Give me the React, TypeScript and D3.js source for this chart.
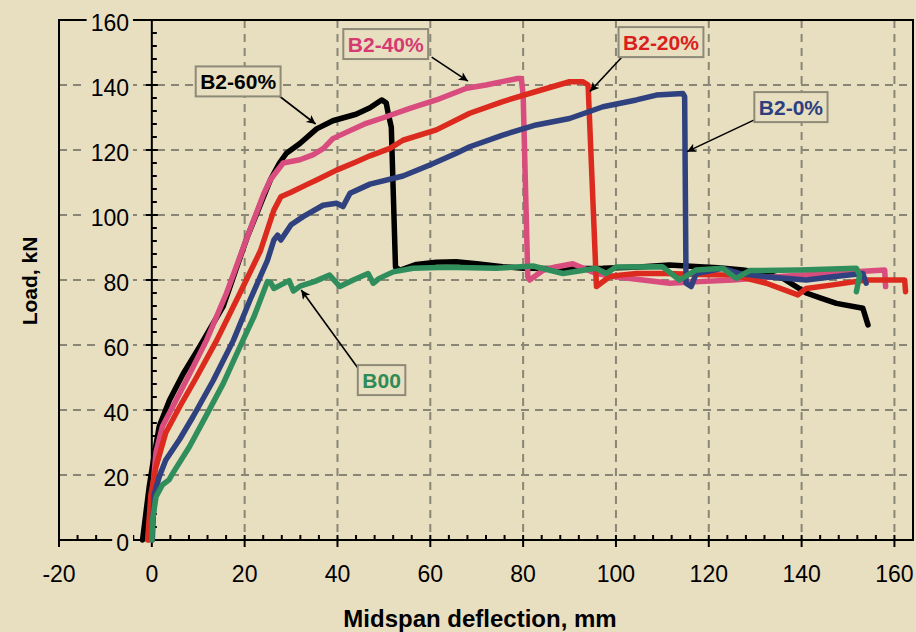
import React, { useEffect, useRef } from "react";
import * as d3 from "d3";

const xTicks = [-20, 0, 20, 40, 60, 80, 100, 120, 140, 160];
const yTicks = [0, 20, 40, 60, 80, 100, 120, 140, 160];

// load (kN) vs midspan deflection (mm)
const b2_60 = [
  [-2, 0], [-1.3, 8], [-0.6, 16], [0.5, 26], [1.6, 35], [3.8, 43], [6.7, 51], [10.3, 59.5],
  [15.4, 72], [20.5, 93], [25.6, 111], [27.5, 116], [29, 119], [31.9, 122], [35.5, 126.5],
  [39, 129], [44, 131], [47, 133], [49.5, 135.4], [50.5, 134.5], [50.9, 131.5], [51.6, 127],
  [52.5, 84], [53.4, 83], [57, 84.8], [61.3, 85.5], [65.6, 85.6], [70, 85], [75.6, 84.1],
  [80, 83.6], [90, 83.5], [97.2, 83.6], [105, 84], [111.5, 84.6], [118, 84.1], [122, 83.8],
  [127.4, 83.1], [132, 82], [136, 80.5], [141, 76], [144, 74.5], [147.5, 72.8], [153.2, 71.3],
  [154.3, 66.2]
];

const b2_40 = [
  [-0.6, 0], [0.1, 14], [0.9, 27], [2.3, 35], [4.5, 41], [8.1, 51], [11.8, 61.5], [16.1, 76],
  [20.5, 93], [24.1, 106.5], [25.6, 111], [28.3, 116], [31.9, 117], [34.7, 118.5], [37, 120.5],
  [39, 123.5], [42, 125.5], [46.2, 128.2], [50, 130], [55.6, 132.8], [61.3, 135.4], [67.8, 139],
  [72, 140], [78.8, 142], [79.6, 142], [80, 137], [81, 81], [81.4, 80], [84.3, 83], [87, 84],
  [90.7, 85], [95.7, 82], [100, 81], [111.6, 79], [118, 79.5], [125.2, 80], [132, 80.8],
  [139.6, 81.5], [146, 82], [152.5, 82.6], [157.9, 83.1], [158.1, 78]
];

const b2_20 = [
  [-0.9, 0], [-0.2, 14], [0.9, 22.5], [3, 33], [6, 41], [9.6, 50], [14, 61.5], [19, 76],
  [23.4, 89], [26.3, 101.5], [27.8, 105.6], [30, 107], [33.6, 109.5], [35.5, 110.8],
  [39.8, 113.8], [44.1, 116.4], [47, 118.2], [51.3, 120.5], [54.1, 123], [61.3, 126.2],
  [68.5, 131.3], [75.6, 134.9], [82.8, 138], [90, 141], [92.9, 141], [94, 140], [95.8, 78],
  [98.6, 81], [100.8, 81.5], [104.4, 82], [110.8, 82], [118, 81.7], [125.2, 81.5], [132.4, 79],
  [139.2, 75.4], [141, 77.4], [146.7, 78.5], [153.9, 80], [162.2, 80], [162.4, 76.4]
];

const b2_0 = [
  [0.1, 0], [0.5, 14], [1.6, 19.5], [3, 24.6], [6, 31], [8.9, 38], [13.2, 49], [17.6, 61.5],
  [21.2, 74], [24.9, 86], [26.3, 92.3], [27.1, 93.8], [27.8, 92.3], [30, 97], [32.6, 99.5],
  [36.9, 103], [39.8, 103.6], [41.2, 102.6], [42.7, 106.7], [47, 109.5], [54.1, 112],
  [59.9, 115.4], [65.6, 119], [68.5, 121], [75.6, 124.6], [82.8, 127.7], [90, 129.7],
  [97.2, 133.3], [104.4, 135.4], [108.7, 136.9], [114.4, 137.4], [114.8, 136.4], [115.1, 79],
  [116.2, 78], [117.3, 82], [123, 83.6], [126.6, 82], [132.4, 81], [141, 80], [146.7, 81],
  [153.2, 82], [153.9, 79]
];

const b00 = [
  [0, 0], [0.15, 6], [0.9, 13.3], [2.3, 17], [3.7, 18.5], [4.5, 20.5], [8.1, 28.7], [11.8, 38.5],
  [15.4, 48.2], [19, 59.5], [22, 68.7], [24.9, 79.5], [25.6, 79.2], [26.3, 77.4], [27.8, 78.5],
  [29.6, 79.8], [30.5, 76.6], [32.1, 78.2], [35, 79.5], [38.3, 81.5], [40.5, 78], [43.4, 80],
  [46.6, 82], [47.7, 79], [49, 80.5], [52, 82.5], [56.3, 83.6], [63.5, 83.9], [74.2, 83.6],
  [82.1, 84.3], [88.6, 82], [95.7, 83.6], [97.9, 82], [100, 84], [110, 84.1], [113.7, 80],
  [117.3, 83.1], [123, 83.6], [125.9, 80.5], [128.8, 82.9], [139.6, 83.1], [151.8, 83.6],
  [152.5, 81.5], [151.8, 76.4]
];

const seriesNames = ["B2-60%", "B2-40%", "B2-20%", "B2-0%", "B00"];
const seriesData = [b2_60, b2_40, b2_20, b2_0, b00];
const lineColors = ["#000000", "#D84C7E", "#DC2B1E", "#2F417E", "#2F8E5B"];
const textColors = ["#000000", "#D63A73", "#DA1F1D", "#2E3F80", "#2E8B57"];

// callout boxes and arrows, in data units
const labelPos = [[18.6, 141.1], [50.4, 152.6], [109.7, 153.2], [137.7, 133.2], [49.5, 49.2]];
const arrowFrom = [[27.1, 137.0], [60.3, 148.6], [101.3, 148.6], [129.7, 129.2], [44.4, 52.9]];
const arrowTo = [[35.3, 128.0], [68.1, 141.2], [94.4, 138.0], [115.3, 119.5], [32.2, 76.9]];

const BG = "#E8DEC0";
const GRID = "#8A8676";
const FONT = "'Liberation Sans', Arial, sans-serif";

export default function App() {
  const ref = useRef<SVGSVGElement>(null);

  useEffect(() => {
    const width = 916;
    const height = 632;
    const svg = d3.select(ref.current);
    svg.selectAll("*").remove();
    svg.attr("width", width).attr("height", height);

    const x = d3.scaleLinear().domain([-20, 164]).range([59, 913]);
    const y = d3.scaleLinear().domain([0, 160]).range([540, 20]);

    svg.append("rect").attr("width", width).attr("height", height).attr("fill", BG);

    const defs = svg.append("defs");
    defs
      .append("marker")
      .attr("id", "arrow")
      .attr("viewBox", "0 0 10 10")
      .attr("refX", 10)
      .attr("refY", 5)
      .attr("markerUnits", "userSpaceOnUse")
      .attr("markerWidth", 12)
      .attr("markerHeight", 9)
      .attr("orient", "auto")
      .append("path")
      .attr("d", "M0,0 L10,5 L0,10 L2.5,5 Z")
      .attr("fill", "#000");

    // grid
    const grid = svg.append("g").attr("stroke", GRID).attr("stroke-width", 2).attr("stroke-dasharray", "8,6");
    grid
      .selectAll("line.h")
      .data(yTicks.filter(d => d > 0 && d < 160))
      .join("line")
      .attr("x1", x(-20))
      .attr("x2", x(164))
      .attr("y1", d => y(d))
      .attr("y2", d => y(d));
    grid
      .selectAll("line.v")
      .data(xTicks.filter(d => d > 0))
      .join("line")
      .attr("x1", d => x(d))
      .attr("x2", d => x(d))
      .attr("y1", y(160))
      .attr("y2", y(0));

    // frame + axes
    const axes = svg.append("g").attr("stroke", "#000").attr("stroke-width", 2).attr("fill", "none");
    axes.append("rect")
      .attr("x", x(-20))
      .attr("y", y(160))
      .attr("width", x(164) - x(-20))
      .attr("height", y(0) - y(160));
    axes.append("line").attr("x1", x(0)).attr("x2", x(0)).attr("y1", y(160)).attr("y2", y(0));

    const xMinor = d3.range(-20, 165, 4).filter(d => d % 20 !== 0);
    const yMinor = d3.range(0, 161, 4).filter(d => d % 20 !== 0);
    axes.selectAll("line.xmin").data(xMinor).join("line")
      .attr("x1", d => x(d)).attr("x2", d => x(d))
      .attr("y1", y(0)).attr("y2", y(0) - 5);
    axes.selectAll("line.xmaj").data(xTicks).join("line")
      .attr("x1", d => x(d)).attr("x2", d => x(d))
      .attr("y1", y(0) - 5).attr("y2", y(0) + 7);
    axes.selectAll("line.ymin").data(yMinor).join("line")
      .attr("x1", x(0)).attr("x2", x(0) + 5)
      .attr("y1", d => y(d)).attr("y2", d => y(d));
    axes.selectAll("line.ymaj").data(yTicks).join("line")
      .attr("x1", x(0) - 6).attr("x2", x(0) + 6)
      .attr("y1", d => y(d)).attr("y2", d => y(d));

    // y tick labels with a background patch over the grid
    const yl = svg.append("g").attr("font-family", FONT).attr("font-size", 23).attr("text-anchor", "end");
    yTicks.forEach(d => {
      const t = yl.append("text").attr("x", 129).attr("y", y(d) + 10.5).attr("fill", "#000").text(String(d));
      const w = (t.node() as SVGTextElement).getComputedTextLength();
      yl.insert("rect", "text")
        .attr("x", 129 - w - 4)
        .attr("y", y(d) - 10)
        .attr("width", w + 8)
        .attr("height", 22)
        .attr("fill", BG);
    });

    svg.append("g")
      .attr("font-family", FONT)
      .attr("font-size", 23)
      .attr("text-anchor", "middle")
      .selectAll("text")
      .data(xTicks)
      .join("text")
      .attr("x", d => x(d))
      .attr("y", 582)
      .attr("fill", "#000")
      .text(d => String(d));

    svg.append("text")
      .attr("x", 480)
      .attr("y", 627)
      .attr("text-anchor", "middle")
      .attr("font-family", FONT)
      .attr("font-weight", "bold")
      .attr("font-size", 24)
      .text("Midspan deflection, mm");

    svg.append("text")
      .attr("transform", "translate(37,281) rotate(-90)")
      .attr("text-anchor", "middle")
      .attr("font-family", FONT)
      .attr("font-weight", "bold")
      .attr("font-size", 21)
      .text("Load, kN");

    // curves
    const line = d3.line<number[]>().x(d => x(d[0])).y(d => y(d[1]));
    svg.append("g")
      .attr("fill", "none")
      .attr("stroke-width", 5.5)
      .attr("stroke-linejoin", "round")
      .attr("stroke-linecap", "round")
      .selectAll("path")
      .data(seriesData)
      .join("path")
      .attr("stroke", (_, i) => lineColors[i])
      .attr("d", d => line(d));

    // callouts
    const callouts = svg.append("g");
    seriesNames.forEach((name, i) => {
      callouts.append("line")
        .attr("x1", x(arrowFrom[i][0]))
        .attr("y1", y(arrowFrom[i][1]))
        .attr("x2", x(arrowTo[i][0]))
        .attr("y2", y(arrowTo[i][1]))
        .attr("stroke", "#000")
        .attr("stroke-width", 1.6)
        .attr("marker-end", "url(#arrow)");
      const cx = x(labelPos[i][0]);
      const cy = y(labelPos[i][1]);
      const box = callouts.append("rect");
      const t = callouts.append("text")
        .attr("x", cx)
        .attr("y", cy + 7.5)
        .attr("text-anchor", "middle")
        .attr("font-family", FONT)
        .attr("font-weight", "bold")
        .attr("font-size", 21)
        .attr("fill", textColors[i])
        .text(name);
      const w = (t.node() as SVGTextElement).getComputedTextLength();
      box.attr("x", cx - w / 2 - 4.5)
        .attr("y", cy - 15)
        .attr("width", w + 9)
        .attr("height", 30)
        .attr("fill", BG)
        .attr("stroke", "#8E8A78")
        .attr("stroke-width", 2);
    });
  }, []);

  return <svg ref={ref} style={{ position: "absolute", left: 0, top: 0, display: "block" }}></svg>;
}
